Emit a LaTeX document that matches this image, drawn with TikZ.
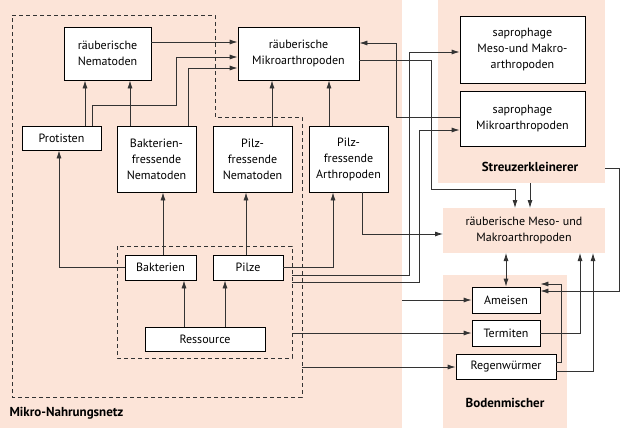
\documentclass[tikz,border=0pt]{standalone}
\usepackage{fontspec}
\setmainfont{PT Sans}
\usetikzlibrary{arrows.meta}
\definecolor{peach}{HTML}{FCE4D8}
\definecolor{linec}{HTML}{333333}
\tikzstyle{box} = [rectangle, draw=black, fill=white, line width=0.8pt, align=center, inner sep=0pt, font=\fontsize{12}{16}\selectfont]
\tikzstyle{zone} = [fill=peach, draw=none]
\tikzstyle{title} = [font=\fontsize{13}{15}\selectfont\bfseries]
\tikzstyle{arrow} = [draw=linec, line width=0.8pt, -{Latex[length=8pt,width=5pt]}]
\tikzstyle{frame} = [draw=black!80, line width=0.8pt, dash pattern=on 4pt off 3pt]

\begin{document}
\begin{tikzpicture}[x=1pt, y=-1pt]
    \useasboundingbox (0,0) rectangle (620,428);
    % zones
    \fill [zone] (0,0) rectangle (402,428);
    \fill [zone] (438,0) rectangle (605,183);
    \fill [zone] (443,208) rectangle (605,253);
    \fill [zone] (443,275) rectangle (567,428);
    \draw [frame] (12,15) -- (215,15) -- (215,117) -- (302,117) -- (302,397) -- (12,397) -- cycle;
    \draw [frame] (117,246) rectangle (292,358);

    % micro food web
    \node (rnem) [box, minimum width=87pt, minimum height=53pt] at (107.5,53.5) {räuberische\\Nematoden};
    \node (rmikro) [box, minimum width=121pt, minimum height=53pt] at (298.5,53.5) {räuberische\\Mikroarthropoden};
    \node (prot) [box, minimum width=79pt, minimum height=24pt] at (61.5,138) {Protisten};
    \node (bnem) [box, minimum width=79pt, minimum height=66pt] at (156.5,159) {Bakterien-\\fressende\\Nematoden};
    \node (pnem) [box, minimum width=79pt, minimum height=66pt] at (252.5,159) {Pilz-\\fressende\\Nematoden};
    \node (parth) [box, minimum width=79pt, minimum height=66pt] at (348.5,159) {Pilz-\\fressende\\Arthropoden};
    \node (bakt) [box, minimum width=71pt, minimum height=25pt] at (160.5,267.5) {Bakterien};
    \node (pilze) [box, minimum width=70pt, minimum height=25pt] at (248,267.5) {Pilze};
    \node (ress) [box, minimum width=120pt, minimum height=24pt] at (205,339) {Ressource};
    \node (mikro) [title, anchor=west] at (6,413) {Mikro-Nahrungsnetz};

    % litter shredders and soil mixers
    \node (smeso) [box, minimum width=125pt, minimum height=67pt] at (522.5,49.5) {saprophage\\Meso-und Makro-\\arthropoden};
    \node (smikro) [box, minimum width=125pt, minimum height=55pt] at (522.5,118.5) {saprophage\\Mikroarthropoden};
    \node (streu) [title] at (530,167) {Streuzerkleinerer};
    \node (rmeso) [align=center, font=\fontsize{12}{16}\selectfont] at (524,230) {räuberische Meso- und\\Makroarthropoden};
    \node (ameis) [box, minimum width=68pt, minimum height=26pt] at (506,300) {Ameisen};
    \node (term) [box, minimum width=68pt, minimum height=26pt] at (506,333) {Termiten};
    \node (regen) [box, minimum width=100pt, minimum height=25pt] at (506,366.5) {Regenwürmer};
    \node (boden) [title] at (505,403) {Bodenmischer};
    \coordinate (rmesotop) at (524,208);
    \coordinate (rmesobot) at (524,253);

    % arrows inside the micro food web
    \draw [arrow] (rnem.east |- 0,42) -- (rmikro.west |- 0,42);
    \draw [arrow] (prot.north -| 92,0) -- (92,105) -- (176,105) -- (176,57) -- (rmikro.west |- 0,57);
    \draw [arrow] (prot.north -| 85,0) -- (rnem.south -| 85,0);
    \draw [arrow] (bnem.north -| 130,0) -- (rnem.south -| 130,0);
    \draw [arrow] (bnem.north -| 188,0) -- (188,68) -- (rmikro.west |- 0,68);
    \draw [arrow] (pnem.north -| 272,0) -- (rmikro.south -| 272,0);
    \draw [arrow] (parth.north -| 329,0) -- (rmikro.south -| 329,0);
    \draw [arrow] (bakt.west) -- (59,267.5) -- (prot.south -| 59,0);
    \draw [arrow] (bakt.north -| 163,0) -- (bnem.south -| 163,0);
    \draw [arrow] (pilze.north -| 246,0) -- (pnem.south -| 246,0);
    \draw [arrow] (ress.north -| 184,0) -- (bakt.south -| 184,0);
    \draw [arrow] (ress.north -| 225,0) -- (pilze.south -| 225,0);
    \draw [arrow] (pilze.east |- 0,267) -- (333,267) -- (parth.south -| 333,0);

    % links to the right
    \draw [arrow] (smikro.west |- 0,117) -- (396,117) -- (396,43) -- (rmikro.east |- 0,43);
    \draw [arrow] (rmikro.east |- 0,60) -- (431,60) -- (431,189) -- (515,189) -- (rmesotop -| 515,0);
    \draw [arrow] (530,183) -- (rmesotop -| 530,0);
    \draw [arrow] (605,168) -- (619,168) -- (619,291) -- (ameis.east |- 0,291);
    \draw [arrow] (292,275) -- (409,275) -- (409,52) -- (smeso.west |- 0,52);
    \draw [arrow] (292,282) -- (419,282) -- (419,130) -- (smikro.west |- 0,130);
    \draw [arrow] (parth.south -| 362,0) -- (362,234) -- (443,234);
    \draw [arrow] (402,300) -- (ameis.west |- 0,300);
    \draw [arrow] (292,333) -- (term.west |- 0,333);
    \draw [arrow] (302,367) -- (regen.west |- 0,367);
    \draw [arrow, {Latex[length=8pt,width=5pt]}-{Latex[length=8pt,width=5pt]}] (ameis.north) -- (rmesobot -| ameis.north);
    \draw [arrow] (term.east) -- (580,333) -- (rmesobot -| 580,0);
    \draw [arrow] (regen.east |- 0,371) -- (593,371) -- (rmesobot -| 593,0);
    \draw [arrow] (regen.east |- 0,362) -- (561,362) -- (561,284) -- (ameis.east |- 0,284);
\end{tikzpicture}
\end{document}
